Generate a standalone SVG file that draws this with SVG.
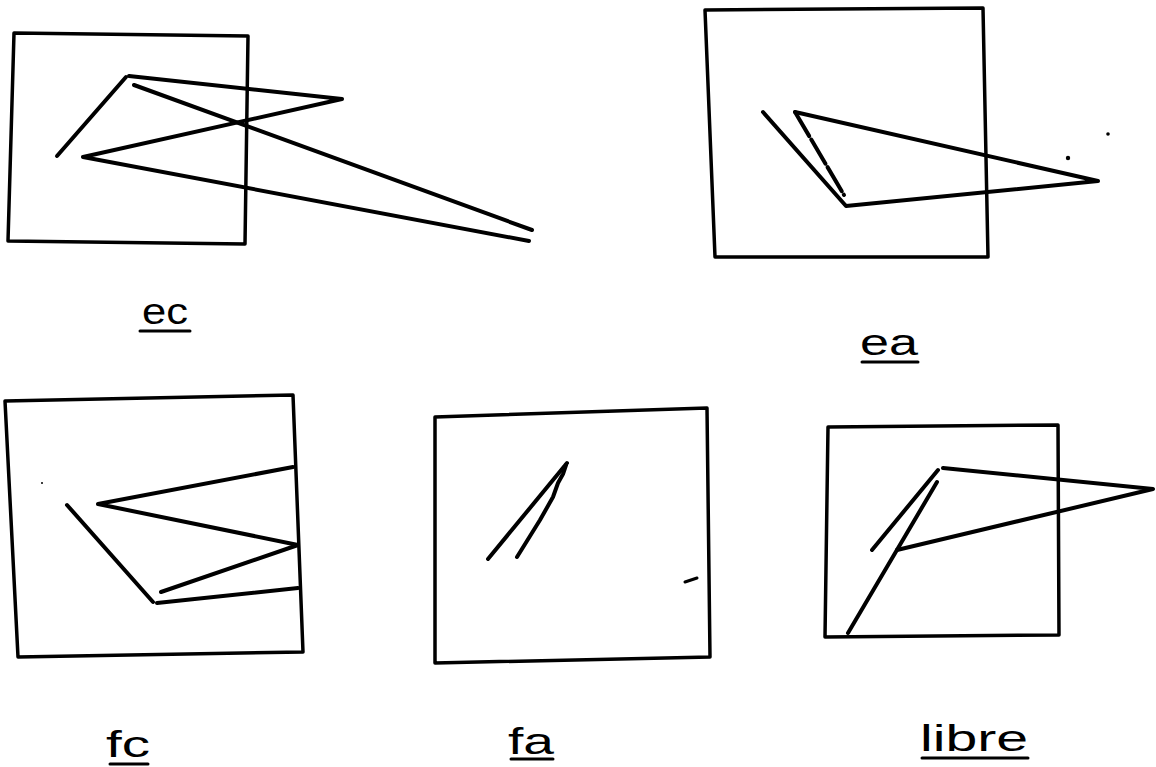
<svg xmlns="http://www.w3.org/2000/svg" width="1156" height="767" viewBox="0 0 1156 767">
<style>
.box{fill:none;stroke:#000;stroke-width:3.5;stroke-linejoin:round;stroke-linecap:round}
.ln{fill:none;stroke:#000;stroke-width:4;stroke-linejoin:round;stroke-linecap:round}
.thin{fill:none;stroke:#000;stroke-width:3;stroke-linecap:round}
.lbl{font-family:"Liberation Sans",Arial,sans-serif;font-size:36px;fill:#000}
.ul{stroke:#000;stroke-width:3;stroke-linecap:round}
</style>
<rect width="1156" height="767" fill="#fff"/>
<g id="ec">
<path class="box" d="M14,33 L248,36 L245,244 L8,241 Z"/>
<path class="ln" d="M57,156 L126,77"/>
<path class="ln" d="M129,76 L342,99 L83,157 L529,241"/>
<path class="ln" d="M134,85 L532,230"/>
<text class="lbl" x="142" y="324" textLength="46" lengthAdjust="spacingAndGlyphs">ec</text>
<line class="ul" x1="140" y1="331" x2="190" y2="331"/>
</g>
<g id="ea">
<path class="box" d="M705,10 L983,8 L988,257 L715,257 Z"/>
<path class="ln" d="M763,112 L846,206 L1098,181 L795,112"/>
<path class="ln" d="M795,112 L844,195" stroke-dasharray="28 4"/>
<circle cx="1068" cy="158" r="2.2"/>
<circle cx="1108" cy="134" r="1.8"/>
<text class="lbl" x="860" y="355" textLength="58" lengthAdjust="spacingAndGlyphs">ea</text>
<line class="ul" x1="862" y1="362" x2="918" y2="362" stroke-width="2"/>
</g>
<g id="fc">
<path class="box" d="M5,401 L293,395 L303,652 L18,657 Z"/>
<path class="ln" d="M67,505 L153,602"/>
<path class="ln" d="M157,603 L298,588"/>
<path class="ln" d="M161,592 L298,545"/>
<path class="ln" d="M298,545 L98,504 L293,467"/>
<circle cx="42" cy="483" r="1"/>
<text class="lbl" x="106" y="757" textLength="44" lengthAdjust="spacingAndGlyphs">fc</text>
<line class="ul" x1="110" y1="764" x2="148" y2="764"/>
</g>
<g id="fa">
<path class="box" d="M435,417 L707,408 L710,657 L435,663 Z"/>
<path class="ln" d="M488,559 L567,463"/>
<path class="ln" d="M517,557 L540,520 L553,497 L558,483 L563,474 L566,465"/>
<path class="thin" d="M685,582 L697,578"/>
<text class="lbl" x="508" y="754" textLength="46" lengthAdjust="spacingAndGlyphs">fa</text>
<line class="ul" x1="511" y1="759" x2="553" y2="759"/>
</g>
<g id="libre">
<path class="box" d="M828,427 L1058,425 L1059,635 L825,637 Z"/>
<path class="ln" d="M872,550 L938,470"/>
<path class="ln" d="M848,633 L937,482"/>
<path class="ln" d="M897,550 L1153,489 L943,468"/>
<text class="lbl" x="920" y="751" textLength="108" lengthAdjust="spacingAndGlyphs">libre</text>
<line class="ul" x1="922" y1="758" x2="1028" y2="758"/>
</g>
</svg>
